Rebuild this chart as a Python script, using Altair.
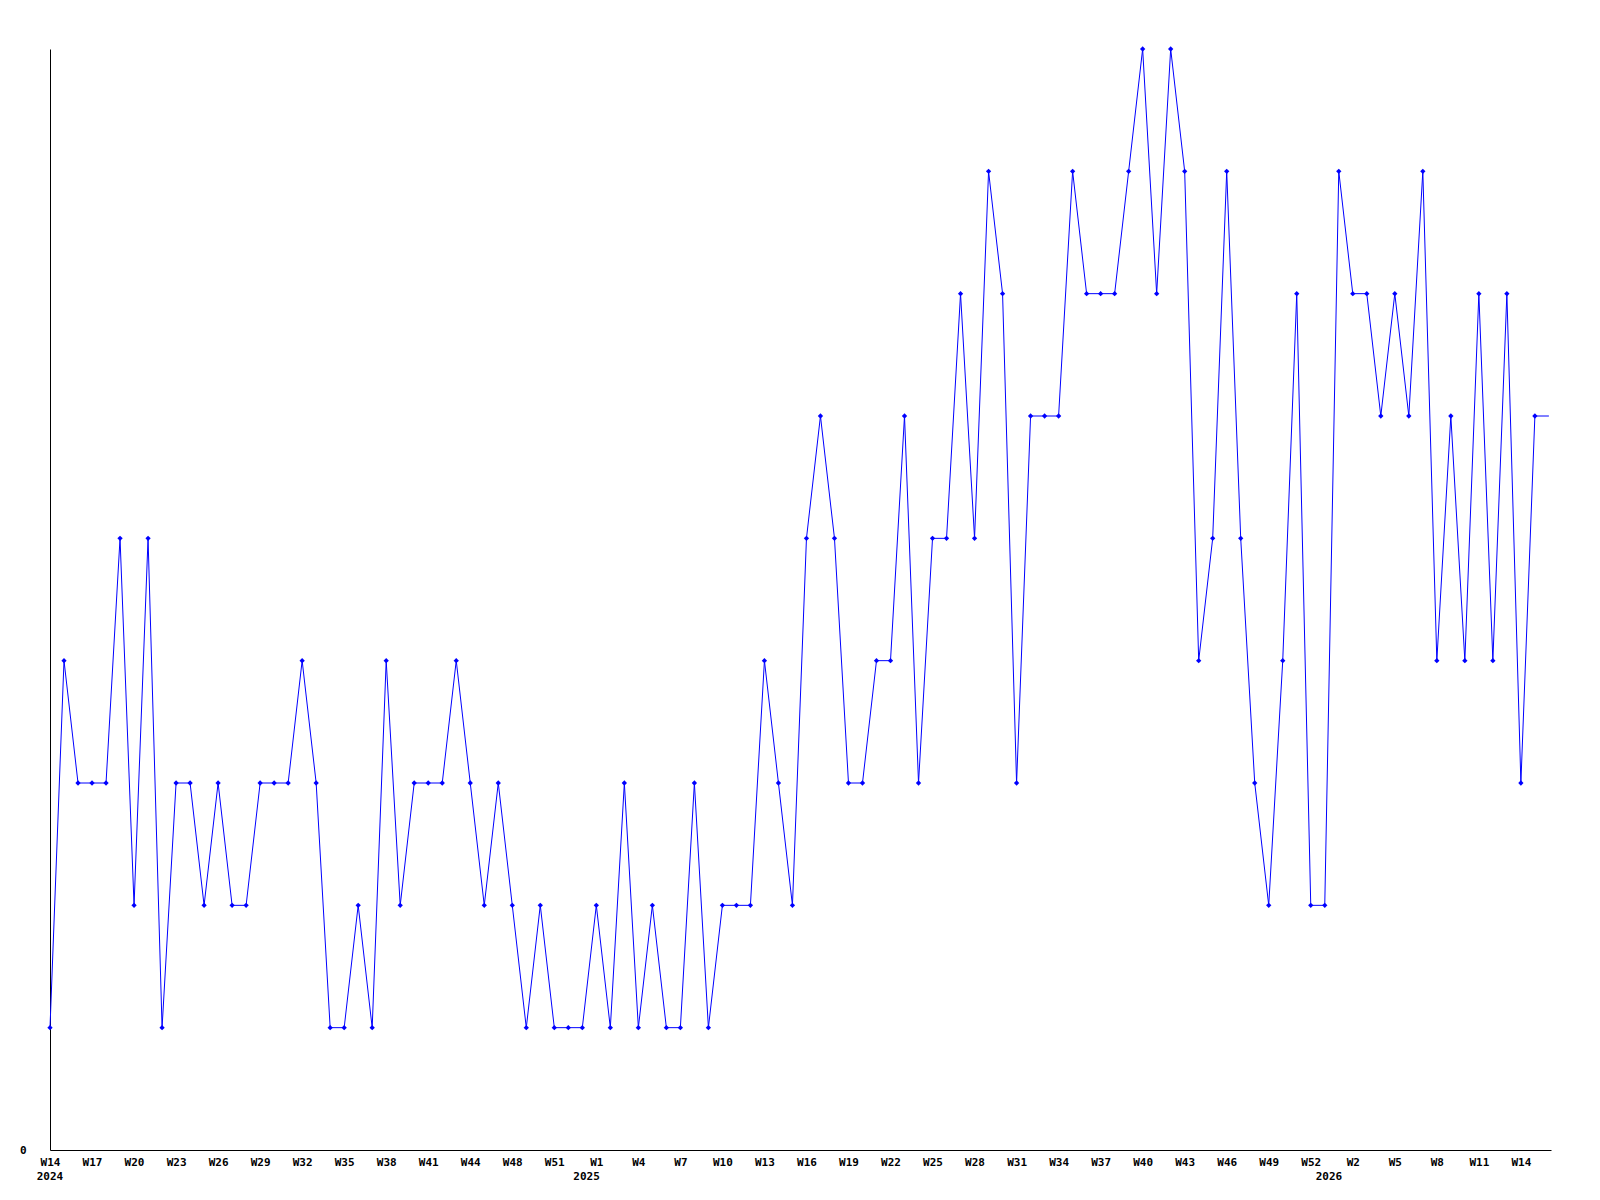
import altair as alt
import pandas as pd

# Weekly values (levels 0..9), W14 2024 .. W15 2026
values = [1, 4, 3, 3, 3, 5, 2, 5, 1, 3,
          3, 2, 3, 2, 2, 3, 3, 3, 4, 3,
          1, 1, 2, 1, 4, 2, 3, 3, 3, 4,
          3, 2, 3, 2, 1, 2, 1, 1, 1, 2,
          1, 3, 1, 2, 1, 1, 3, 1, 2, 2,
          2, 4, 3, 2, 5, 6, 5, 3, 3, 4,
          4, 6, 3, 5, 5, 7, 5, 8, 7, 3,
          6, 6, 6, 8, 7, 7, 7, 8, 9, 7,
          9, 8, 4, 5, 8, 5, 3, 2, 4, 7,
          2, 2, 8, 7, 7, 6, 7, 6, 8, 4,
          6, 4, 7, 4, 7, 3, 6]
# current (partial) week continues the line to the edge
tail_value = 6

week_labels = ["W14", "W17", "W20", "W23", "W26", "W29", "W32", "W35", "W38",
               "W41", "W44", "W48", "W51", "W1", "W4", "W7", "W10", "W13",
               "W16", "W19", "W22", "W25", "W28", "W31", "W34", "W37", "W40",
               "W43", "W46", "W49", "W52", "W2", "W5", "W8", "W11", "W14"]
label_step = 3

years = ["2024", "2025", "2026"]
year_pos = [0, 38.3, 91.3]

W, H = 1501, 1101

n = len(values)
data = pd.DataFrame({"i": list(range(n + 1)), "v": values + [tail_value],
                     "full": [True] * n + [False]})
year_df = pd.DataFrame({"i": year_pos, "t": years})

tick_vals = [k * label_step for k in range(len(week_labels))]
label_map = "{" + ",".join(f'"{t}":"{l}"' for t, l in zip(tick_vals, week_labels)) + "}"

xscale = alt.Scale(domain=[0, 107.15], nice=False, zero=False)
yscale = alt.Scale(domain=[0, 9], nice=False)

FONT = "DejaVu Sans Mono"

x_axis = alt.Axis(values=tick_vals, labelExpr=f"{label_map}[''+datum.value]",
                  ticks=False, grid=False, domainColor="black", domainWidth=1,
                  labelFont=FONT, labelFontSize=11, labelFontWeight="bold",
                  labelColor="black", labelPadding=12, labelBaseline="middle",
                  labelAlign="center", title=None, labelOverlap=False, labelFlush=False)
y_axis = alt.Axis(values=[0], labelExpr="datum.value == 0 ? '0' : ''", ticks=False, grid=False,
                  domainColor="black", domainWidth=1, labelFont=FONT, labelFontSize=11,
                  labelFontWeight="bold", labelColor="black", labelPadding=24, title=None,
                  labelFlush=False)

X = alt.X("i:Q", scale=xscale, axis=x_axis)
Y = alt.Y("v:Q", scale=yscale, axis=y_axis)

base = alt.Chart(data).encode(x=X, y=Y)
line = base.mark_line(color="#0000ff", strokeWidth=1)
pts = base.transform_filter("datum.full").mark_point(
    shape="diamond", filled=True, color="#0000ff", size=28, opacity=1)
yrs = alt.Chart(year_df).mark_text(font=FONT, fontSize=11, fontWeight="bold", color="black",
                                   baseline="middle", align="center").encode(
    x=X,
    y=alt.value(H + 27),
    text="t:N",
)

chart = alt.layer(line, pts, yrs).properties(
    width=W, height=H,
    autosize=alt.AutoSizeParams(type="none"),
    padding={"left": 42, "top": 41, "right": 40, "bottom": 40},
    background="white",
).configure_view(strokeWidth=0, strokeOpacity=0)

chart.save("out.html", embed_options={"renderer": "svg", "actions": False})
